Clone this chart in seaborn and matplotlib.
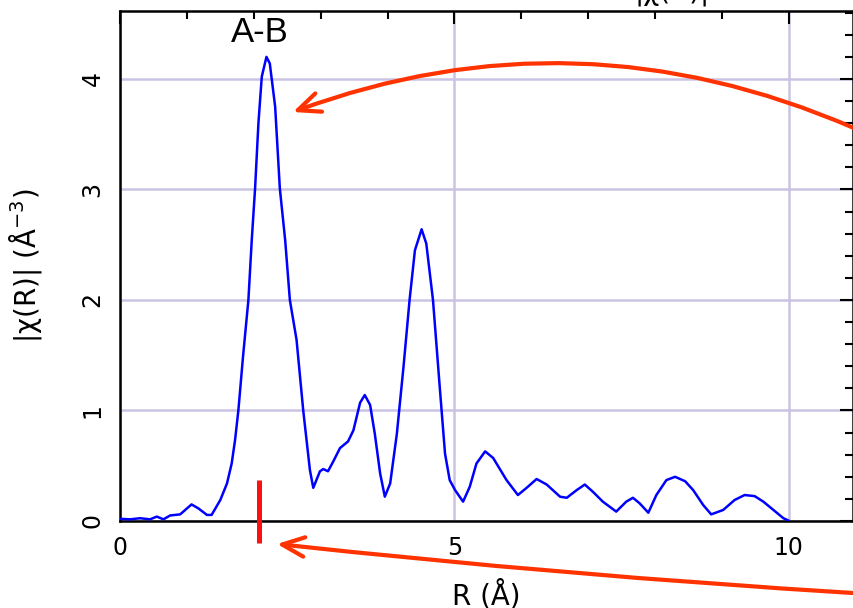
import matplotlib
matplotlib.use("Agg")
import matplotlib.pyplot as plt
import seaborn as sns

# |chi(R)|
r = [0, 0.15, 0.3, 0.45, 0.55, 0.65, 0.75, 0.9, 1.07, 1.17, 1.3, 1.37, 1.5,
     1.6, 1.67, 1.72, 1.77, 1.84, 1.92, 1.97, 2.02, 2.07, 2.12, 2.19, 2.24,
     2.32, 2.39, 2.47, 2.54, 2.64, 2.74, 2.84, 2.89, 2.99, 3.04, 3.11, 3.19,
     3.29, 3.41, 3.49, 3.59, 3.66, 3.74, 3.81, 3.89, 3.96, 4.04, 4.14, 4.24,
     4.33, 4.41, 4.51, 4.58, 4.68, 4.78, 4.86, 4.93, 5.01, 5.13, 5.23, 5.33,
     5.46, 5.58, 5.78, 5.95, 6.08, 6.23, 6.38, 6.58, 6.68, 6.83, 6.95, 7.07,
     7.22, 7.42, 7.57, 7.67, 7.77, 7.90, 8.02, 8.17, 8.30, 8.45, 8.57, 8.72,
     8.84, 9.02, 9.19, 9.34, 9.49, 9.62, 9.77, 9.92, 10.0]
chi = [0.02, 0.015, 0.025, 0.015, 0.04, 0.015, 0.05, 0.06, 0.15, 0.115, 0.055,
       0.055, 0.19, 0.34, 0.52, 0.73, 1.0, 1.49, 2.0, 2.54, 3.01, 3.6, 4.02,
       4.2, 4.14, 3.75, 3.01, 2.54, 2.0, 1.64, 1.0, 0.46, 0.30, 0.45, 0.47,
       0.45, 0.54, 0.66, 0.72, 0.82, 1.07, 1.14, 1.05, 0.79, 0.43, 0.22, 0.34,
       0.79, 1.40, 2.0, 2.45, 2.64, 2.51, 2.0, 1.22, 0.61, 0.37, 0.28, 0.175,
       0.31, 0.52, 0.63, 0.57, 0.37, 0.235, 0.30, 0.38, 0.33, 0.22, 0.21, 0.28,
       0.33, 0.265, 0.175, 0.085, 0.175, 0.21, 0.16, 0.075, 0.235, 0.37, 0.40,
       0.36, 0.28, 0.145, 0.06, 0.10, 0.19, 0.235, 0.225, 0.175, 0.10, 0.025,
       0.003]

x_ticks = [0, 5, 10]
y_ticks = [0, 1, 2, 3, 4]
peak_label = "A-B"
marker_r = 2.08

sns.set_style("white")
plt.rcParams['font.family'] = ['DejaVu Sans']
plt.rcParams['text.color'] = 'black'
plt.rcParams['axes.labelcolor'] = 'black'

fig = plt.figure(figsize=(8.54, 6.08), dpi=100)
ax = fig.add_axes([0.1405, 0.1431, 0.8583, 0.8388])

sns.lineplot(x=r, y=chi, ax=ax, color='#0000ff', lw=1.8,
             sort=False, estimator=None, zorder=3)

ax.set_xlim(0, 10.96)
ax.set_ylim(0, 4.615)
ax.set_xticks(x_ticks)
ax.set_yticks(y_ticks)
ax.set_xticks(range(0, 11), minor=True)
ax.set_yticks([i * 0.2 for i in range(24)], minor=True)

ax.set_axisbelow(True)
ax.grid(True, which='major', color='#cbc3e3', lw=1.8)

for s in ax.spines.values():
    s.set_linewidth(1.8)
    s.set_color('black')

ax.tick_params(which='both', direction='in', top=True, right=True,
               width=1.5, colors='black', labelsize=17, pad=11)
ax.tick_params(which='major', length=9.5)
ax.tick_params(which='minor', length=5.5)
ax.tick_params(axis='y', labelrotation=90)
plt.setp(ax.get_yticklabels(), va='center')

ax.set_xlabel("R (Å)", fontsize=20, color='black')
ax.set_ylabel("|χ(R)| (Å$^{-3}$)", fontsize=20, color='black')
ax.xaxis.set_label_coords(0.5, -0.116)
ax.yaxis.set_label_coords(-0.103, 0.5)

fig.text(672 / 854, 1.0, "|χ(R)|", ha='center', va='baseline', fontsize=20,
         color='black')

ax.text(2.09, 4.42, peak_label, ha='center', va='center', fontsize=25,
        color='black', family=['Liberation Sans', 'DejaVu Sans'])

# red marker below the first shell
ax.plot([marker_r, marker_r], [-0.20, 0.371], color='#ff1010', lw=3.6,
        solid_capstyle='butt', clip_on=False, zorder=4)

arrow = dict(arrowstyle='->,head_length=0.8,head_width=0.35', color='#ff3300',
             lw=3, shrinkA=0, shrinkB=0, mutation_scale=20, clip_on=False)
ax.annotate("", xy=(2.586, 3.701), xytext=(10.97, 3.557),
            arrowprops=dict(arrow, connectionstyle="arc3,rad=0.2"),
            annotation_clip=False)
ax.annotate("", xy=(2.347, -0.208), xytext=(10.97, -0.652),
            arrowprops=dict(arrow, connectionstyle="arc3,rad=-0.012"),
            annotation_clip=False)

fig.savefig("out.png", dpi=100)
